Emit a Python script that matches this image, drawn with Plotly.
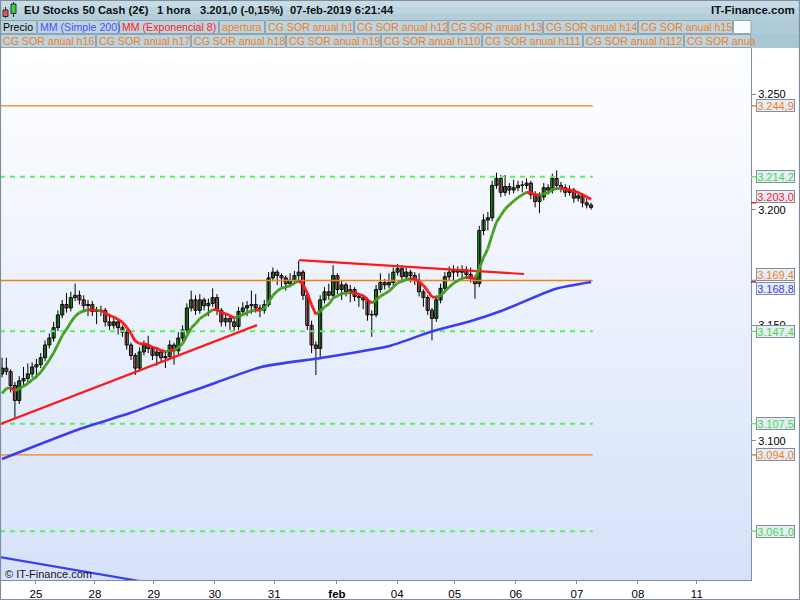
import plotly.graph_objects as go

# ---------------- data (hourly bars, ~14 per trading day) ----------------
opens = [3129, 3131.5, 3130, 3124, 3117.5, 3126, 3127, 3129, 3132, 3133,
         3136, 3141.5, 3144.5, 3149, 3154.5, 3159, 3157.5, 3162, 3163, 3161,
         3158.5, 3159, 3156, 3156, 3156.5, 3151.5, 3150, 3151.5, 3149, 3147,
         3141.5, 3137, 3131.5, 3138.5, 3141.5, 3140, 3137, 3138.5, 3136, 3136.5,
         3141.5, 3139, 3144.5, 3148, 3157.5, 3161, 3156.5, 3161, 3158.5, 3159.5,
         3162, 3156.5, 3151.5, 3153, 3151.5, 3149.5, 3156, 3157.5, 3158.5, 3159,
         3157.5, 3156.5, 3159, 3170.5, 3173, 3171.5, 3170.5, 3168, 3169.5, 3171.5,
         3173, 3163, 3150, 3141.5, 3140, 3161, 3164.5, 3163, 3171.5, 3165.5,
         3167.5, 3164.5, 3165.5, 3162.5, 3162, 3161, 3154.5, 3154.5, 3165.5, 3168.5,
         3167.5, 3168.5, 3173, 3174.5, 3171, 3173, 3171.5, 3169.5, 3164.5, 3162,
         3156.5, 3153, 3161, 3166, 3171, 3173, 3174, 3173, 3174, 3172,
         3170.5, 3168, 3191, 3195.5, 3196.5, 3210.5, 3213.5, 3207.5, 3210, 3208.5,
         3209.5, 3210.5, 3210.5, 3211.5, 3206.5, 3203.5, 3205.5, 3209.5, 3208.5, 3213.5,
         3210.5, 3209.5, 3207.5, 3208.5, 3205, 3206, 3203, 3202]

closes = [3131.5, 3130, 3124, 3117.5, 3126, 3127, 3129, 3132, 3133, 3136,
          3141.5, 3144.5, 3149, 3154.5, 3159, 3157.5, 3162, 3163, 3161, 3158.5,
          3159, 3156, 3156, 3156.5, 3151.5, 3150, 3151.5, 3149, 3147, 3141.5,
          3137, 3131.5, 3138.5, 3141.5, 3140, 3137, 3138.5, 3136, 3136.5, 3141.5,
          3139, 3144.5, 3148, 3157.5, 3161, 3156.5, 3161, 3158.5, 3159.5, 3162,
          3156.5, 3151.5, 3153, 3151.5, 3149.5, 3156, 3157.5, 3158.5, 3159, 3157.5,
          3156.5, 3159, 3170.5, 3173, 3171.5, 3170.5, 3168, 3169.5, 3171.5, 3173,
          3163, 3150, 3141.5, 3140, 3161, 3164.5, 3163, 3171.5, 3165.5, 3167.5,
          3164.5, 3165.5, 3162.5, 3162, 3161, 3154.5, 3154.5, 3165.5, 3168.5, 3167.5,
          3168.5, 3173, 3174.5, 3171, 3173, 3171.5, 3169.5, 3164.5, 3162, 3156.5,
          3153, 3161, 3166, 3171, 3173, 3174, 3173, 3174, 3172, 3170.5,
          3168, 3191, 3195.5, 3196.5, 3210.5, 3213.5, 3207.5, 3210, 3208.5, 3209.5,
          3210.5, 3210.5, 3211.5, 3206.5, 3203.5, 3205.5, 3209.5, 3208.5, 3213.5, 3210.5,
          3209.5, 3207.5, 3208.5, 3205, 3206, 3203, 3202, 3201]

highs = [3136, 3136, 3131, 3125.5, 3128, 3132, 3133.5, 3134, 3135.5, 3138,
         3143.5, 3146.5, 3151.5, 3156.5, 3161, 3164, 3164.5, 3168, 3165, 3163,
         3161, 3160.5, 3158, 3158.5, 3157.5, 3155, 3153.5, 3152.5, 3150, 3148,
         3142.5, 3138, 3140.5, 3143.5, 3145.5, 3141, 3140.5, 3139.5, 3138.5, 3143.5,
         3142.5, 3147, 3150, 3159.5, 3165, 3163, 3163.5, 3162, 3161.5, 3166,
         3163.5, 3157.5, 3155, 3154, 3153, 3158, 3160, 3160.5, 3165, 3163.5,
         3159, 3161, 3173, 3175, 3174, 3172.5, 3171.5, 3172.5, 3173.5, 3178,
         3174, 3164, 3152, 3143, 3163, 3166.5, 3168, 3176, 3172.5, 3169.5,
         3168.5, 3167.5, 3166.5, 3164, 3163, 3162, 3156.5, 3167.5, 3172.5, 3170,
         3172.5, 3175, 3176.5, 3176, 3175, 3174, 3173, 3172.5, 3165.5, 3163,
         3157.5, 3163, 3168, 3173, 3175.5, 3176, 3175.5, 3176, 3175.5, 3175,
         3171.5, 3193, 3198, 3199, 3212.5, 3216, 3215, 3215, 3211.5, 3213,
         3212.5, 3212.5, 3213.5, 3212.5, 3208, 3207.5, 3211.5, 3211, 3215.5, 3217,
         3212, 3211, 3210.5, 3209.5, 3208, 3207, 3205, 3203]

lows = [3127.5, 3128.5, 3121, 3110, 3116, 3124, 3125.5, 3127.5, 3127, 3131.5,
        3134.5, 3140, 3143, 3147.5, 3153, 3155.5, 3156, 3160.5, 3159, 3156,
        3154, 3154, 3150.5, 3154, 3149.5, 3148, 3148.5, 3146, 3145, 3139.5,
        3135, 3128.5, 3130, 3137, 3138, 3135, 3132.5, 3134, 3131.5, 3135,
        3133, 3137.5, 3143, 3146.5, 3156, 3154.5, 3155, 3156.5, 3154, 3158,
        3154.5, 3149.5, 3149.5, 3148, 3147.5, 3148, 3154.5, 3154, 3155, 3155.5,
        3153.5, 3155, 3158, 3169, 3167.5, 3166.5, 3165, 3166.5, 3168, 3168.5,
        3161, 3148, 3138, 3128.5, 3136, 3159.5, 3161, 3162, 3163.5, 3161,
        3162.5, 3160, 3160.5, 3158, 3157, 3152, 3145, 3153.5, 3164, 3165.5,
        3166, 3167, 3171.5, 3169, 3169.5, 3168.5, 3167.5, 3162.5, 3158, 3154.5,
        3143.5, 3151.5, 3159.5, 3164.5, 3169.5, 3169.5, 3171, 3169.5, 3170, 3168.5,
        3161.5, 3166.5, 3189, 3191, 3195, 3209, 3205.5, 3206, 3206.5, 3207,
        3208, 3207.5, 3209, 3204.5, 3201, 3198.5, 3204, 3206.5, 3207, 3208.5,
        3207.5, 3205.5, 3206, 3203, 3203.5, 3201, 3200.5, 3200]

ema_seed = 3117.5  # EMA(8) value before the first visible bar

# MM (Simple 200) (bar index, value)
ma200_idx = [0, 18.4, 29.8, 36.8, 46.3, 60.3, 74.2, 90.1, 99.6, 109.1, 116.1, 128.7, 137]
ma200_val = [3092.2, 3105.4, 3112.1, 3116.9, 3122.9, 3132.0, 3135.9, 3141.1,
             3147.1, 3151.9, 3156.2, 3165.7, 3168.7]

# trend lines (bar index, price)
tl1_x, tl1_y = [-0.47, 59.3], [3107.3, 3150.1]
tl2_x, tl2_y = [69.1, 121.4], [3178.2, 3172.2]
tlb_x, tlb_y = [-0.47, 34.9], [3049.8, 3038.5]

# horizontal levels
level_vals = [3244.9, 3214.2, 3169.4, 3147.4, 3107.5, 3094.0, 3061.0]
level_kind = ["orange", "green", "orange", "green", "green", "orange", "green"]

# right-side value boxes
box_vals = [3244.9, 3214.2, 3203.0, 3169.4, 3168.8, 3147.4, 3107.5, 3094.0, 3061.0]
box_kind = ["orange", "green", "red", "orange", "blue", "green", "green", "orange", "green"]
box_shift = [0, 0, 6, 6, -7, 0, 0, 0, 0]

# axes
day_pos = [7.9, 21.6, 35.3, 49.5, 63.3, 77.9, 91.9, 105.3, 119.5, 133.7, 147.9, 161.6]
day_labels = ["25", "28", "29", "30", "31", "<b>feb</b>", "04", "05", "06", "07", "08", "11"]
ytick_vals = [3100, 3150, 3200, 3250]
ytick_text = ["3.100", "3.150", "3.200", "3.250"]

legend_row1 = ["Precio", "MM (Simple 200)", "MM (Exponencial 8)", "apertura",
               "CG SOR anual h1", "CG SOR anual h12", "CG SOR anual h13",
               "CG SOR anual h14", "CG SOR anual h15"]
legend_row2 = ["CG SOR anual h16", "CG SOR anual h17", "CG SOR anual h18",
               "CG SOR anual h19", "CG SOR anual h110", "CG SOR anual h111",
               "CG SOR anual h112", "CG SOR anua"]

title_parts = ["EU Stocks 50 Cash (2€)", "1 hora", "3.201,0 (-0,15%)", "07-feb-2019 6:21:44"]

# ---------------- styling ----------------
FONT = "Liberation Sans, Arial, sans-serif"
ORANGE = "#f0801e"
GREEN_LVL = "#5cf05c"
GREEN_TXT = "#3fdc3f"
RED = "#ff1a1a"
BLUE = "#3c3cf5"
AXIS = "#7f8f9f"
UP_FILL = "#3cc83c"
DOWN_FILL = "#e88c8c"
COLORS = {"orange": ORANGE, "green": GREEN_TXT, "red": RED, "blue": BLUE}

W_PLOT = 751.0
H_TOP, H_BOT = 48.0, 580.0
X_RANGE = [-0.47, 174.2]


def PX(x):
    return x / W_PLOT


def PY(y):
    return (H_BOT - y) / (H_BOT - H_TOP)


n = len(closes)
xs = list(range(n))
x_end = n - 1 + 0.4

fig = go.Figure()

# candles: wicks + bodies
wx, wy = [], []
for i in range(n):
    wx += [i, i, None]
    wy += [lows[i], highs[i], None]
fig.add_trace(go.Scatter(x=wx, y=wy, mode="lines", line=dict(color="black", width=1),
                         hoverinfo="skip", showlegend=False, connectgaps=False))
body_base = [min(o, c) for o, c in zip(opens, closes)]
body_len = [max(abs(c - o), 0.2) for o, c in zip(opens, closes)]
body_col = [UP_FILL if c >= o else DOWN_FILL for o, c in zip(opens, closes)]
fig.add_trace(go.Bar(x=xs, y=body_len, base=body_base, width=0.72,
                     marker=dict(color=body_col, line=dict(color="black", width=1)),
                     hoverinfo="skip", showlegend=False))

# horizontal levels
for v, k in zip(level_vals, level_kind):
    if k == "orange":
        line = dict(color=ORANGE, width=1.4)
    else:
        line = dict(color=GREEN_LVL, width=2, dash="5px,5px")
    fig.add_trace(go.Scatter(x=[X_RANGE[0], x_end], y=[v, v], mode="lines", line=line,
                             hoverinfo="skip", showlegend=False))

# MA 200
fig.add_trace(go.Scatter(x=ma200_idx, y=ma200_val, mode="lines",
                         line=dict(color=BLUE, width=2.6, shape="spline", smoothing=0.6),
                         hoverinfo="skip", showlegend=False))

# trend lines
for tx, ty, col in [(tl1_x, tl1_y, RED), (tl2_x, tl2_y, RED), (tlb_x, tlb_y, BLUE)]:
    fig.add_trace(go.Scatter(x=tx, y=ty, mode="lines", line=dict(color=col, width=2.2),
                             hoverinfo="skip", showlegend=False))

# EMA 8 coloured by slope
ema = []
prev = ema_seed
for c in closes:
    prev = prev + (c - prev) * 2.0 / 9.0
    ema.append(prev)
gx, gy, rx, ry = [], [], [], []
for i in range(1, n):
    if ema[i] >= ema[i - 1]:
        gx += [i - 1, i, None]
        gy += [ema[i - 1], ema[i], None]
    else:
        rx += [i - 1, i, None]
        ry += [ema[i - 1], ema[i], None]
fig.add_trace(go.Scatter(x=gx, y=gy, mode="lines", line=dict(color="#45a020", width=2.8),
                         hoverinfo="skip", showlegend=False, connectgaps=False))
fig.add_trace(go.Scatter(x=rx, y=ry, mode="lines", line=dict(color=RED, width=2.8),
                         hoverinfo="skip", showlegend=False, connectgaps=False))

shapes = []
annotations = []

# plot background gradient
NB = 38
for k in range(NB):
    t = (k + 0.5) / NB
    r = int(round(255 - t * (255 - 214)))
    g = int(round(255 - t * (255 - 226)))
    b = int(round(255 - t * (255 - 250)))
    y0 = H_TOP + k * (H_BOT - H_TOP) / NB
    y1 = y0 + (H_BOT - H_TOP) / NB
    shapes.append(dict(type="rect", xref="paper", yref="paper", x0=0, x1=1,
                       y0=PY(y1), y1=PY(y0), fillcolor=f"rgb({r},{g},{b})",
                       line=dict(width=0), layer="below"))

# header bars
hdr_bands = [(0, 7, "#c6dbe5"), (7, 14, "#bcd4df"), (14, 20, "#b3cdd9")]
for y0, y1, col in hdr_bands:
    shapes.append(dict(type="rect", xref="paper", yref="paper", x0=PX(0), x1=PX(800),
                       y0=PY(y1), y1=PY(y0), fillcolor=col, line=dict(width=0), layer="above"))
for y0, y1, col in [(20, 34, "#b0cbd8"), (34, 48, "#a9c6d3")]:
    shapes.append(dict(type="rect", xref="paper", yref="paper", x0=PX(751), x1=PX(800),
                       y0=PY(y1), y1=PY(y0), fillcolor=col, line=dict(width=0), layer="above"))

# header icon
shapes += [
    dict(type="line", xref="paper", yref="paper", x0=PX(5.5), x1=PX(5.5), y0=PY(18), y1=PY(7),
         line=dict(color="#303030", width=1), layer="above"),
    dict(type="rect", xref="paper", yref="paper", x0=PX(3), x1=PX(8), y0=PY(16.5), y1=PY(10),
         fillcolor="#e05858", line=dict(color="#303030", width=1), layer="above"),
    dict(type="line", xref="paper", yref="paper", x0=PX(13.5), x1=PX(13.5), y0=PY(17), y1=PY(2),
         line=dict(color="#303030", width=1), layer="above"),
    dict(type="rect", xref="paper", yref="paper", x0=PX(11), x1=PX(16), y0=PY(13.5), y1=PY(4),
         fillcolor="#3ccc3c", line=dict(color="#303030", width=1), layer="above"),
]

title_x = [22, 155, 198, 288]
for txt, tx in zip(title_parts, title_x):
    annotations.append(dict(xref="paper", yref="paper", x=PX(tx), y=PY(10.5), xanchor="left",
                            yanchor="middle", showarrow=False, text=f"<b>{txt}</b>",
                            font=dict(family=FONT, size=11.2, color="#101010")))
annotations.append(dict(xref="paper", yref="paper", x=PX(797), y=PY(10.5), xanchor="right",
                        yanchor="middle", showarrow=False, text="<b>IT-Finance.com</b>",
                        font=dict(family=FONT, size=11.5, color="#101010")))

# legend boxes
row1_pos = [(0, 37), (37, 119), (119, 219), (219, 265), (265, 354), (354, 448),
            (448, 543), (543, 638), (638, 733)]
row1_col = ["#000000", "#4f4fff", RED] + [ORANGE] * 6
row2_pos = [(0, 96), (96, 191), (191, 286), (286, 381), (381, 482), (482, 583),
            (583, 684), (684, 751)]
for labels, pos, cols, (ya, yb) in [(legend_row1, row1_pos, row1_col, (20, 34)),
                                     (legend_row2, row2_pos, [ORANGE] * 8, (34, 48))]:
    for txt, (xa, xb), col in zip(labels, pos, cols):
        shapes.append(dict(type="rect", xref="paper", yref="paper", x0=PX(xa + 0.5), x1=PX(xb - 0.5),
                           y0=PY(yb - 0.5), y1=PY(ya + 0.5), fillcolor="#bdd4df",
                           line=dict(color="#8ea5b4", width=1), layer="above"))
        annotations.append(dict(xref="paper", yref="paper", x=PX(xa + 1), y=PY((ya + yb) / 2),
                                xanchor="left", yanchor="middle", showarrow=False, text=txt,
                                font=dict(family=FONT, size=10.6, color=col)))
# empty white slot at end of row 1
shapes.append(dict(type="rect", xref="paper", yref="paper", x0=PX(733.5), x1=PX(751),
                   y0=PY(33.5), y1=PY(20.5), fillcolor="#fbfcff",
                   line=dict(color="#8ea5b4", width=1), layer="above"))

# right value boxes + coloured ticks
for v, k, sh in zip(box_vals, box_kind, box_shift):
    col = COLORS[k]
    shapes.append(dict(type="line", xref="paper", yref="y", x0=PX(751), x1=PX(756), y0=v, y1=v,
                       line=dict(color=col if k != "green" else GREEN_LVL, width=1.5), layer="above"))
    txt = f"{v:,.1f}".replace(",", "X").replace(".", ",").replace("X", ".")
    annotations.append(dict(xref="paper", yref="y", x=PX(756), y=v, yshift=sh, xanchor="left",
                            yanchor="middle", showarrow=False, text=txt,
                            font=dict(family=FONT, size=11, color=col),
                            bgcolor="#e6edf7", bordercolor="#8090a0", borderwidth=1,
                            borderpad=0, width=37, height=11, align="center"))

annotations.append(dict(xref="paper", yref="paper", x=PX(3), y=PY(574), xanchor="left",
                        yanchor="middle", showarrow=False, text="© IT-Finance.com",
                        font=dict(family=FONT, size=11, color="#151515")))

# outer frame
shapes.append(dict(type="rect", xref="paper", yref="paper", x0=PX(0.5), x1=PX(799.5),
                   y0=PY(599.5), y1=PY(0.5), line=dict(color=AXIS, width=1.2),
                   fillcolor="rgba(0,0,0,0)", layer="above"))

fig.update_layout(
    width=800, height=600,
    margin=dict(l=0, r=49, t=48, b=20, pad=0),
    paper_bgcolor="white", plot_bgcolor="white",
    showlegend=False, separators=",.", barmode="overlay",
    font=dict(family=FONT, size=11, color="black"),
    shapes=shapes, annotations=annotations,
    xaxis=dict(range=X_RANGE, tickmode="array", tickvals=day_pos, ticktext=day_labels,
               ticks="outside", ticklen=3, tickcolor=AXIS, showline=True, linecolor=AXIS,
               linewidth=1, showgrid=False, zeroline=False, automargin=False,
               tickfont=dict(family=FONT, size=11.5, color="black"), fixedrange=True),
    yaxis=dict(range=[3039.9, 3269.9], side="right", tickmode="array", tickvals=ytick_vals,
               ticktext=ytick_text, ticks="outside", ticklen=4, tickcolor=AXIS, showline=True,
               linecolor=AXIS, linewidth=1, showgrid=False, zeroline=False, automargin=False,
               tickfont=dict(family=FONT, size=11, color="black"), fixedrange=True),
)

fig.write_html("out.html", config={"displayModeBar": False},
               post_script="document.body.style.margin='0px';document.body.style.padding='0px';"
                           "document.body.style.overflow='hidden';")
